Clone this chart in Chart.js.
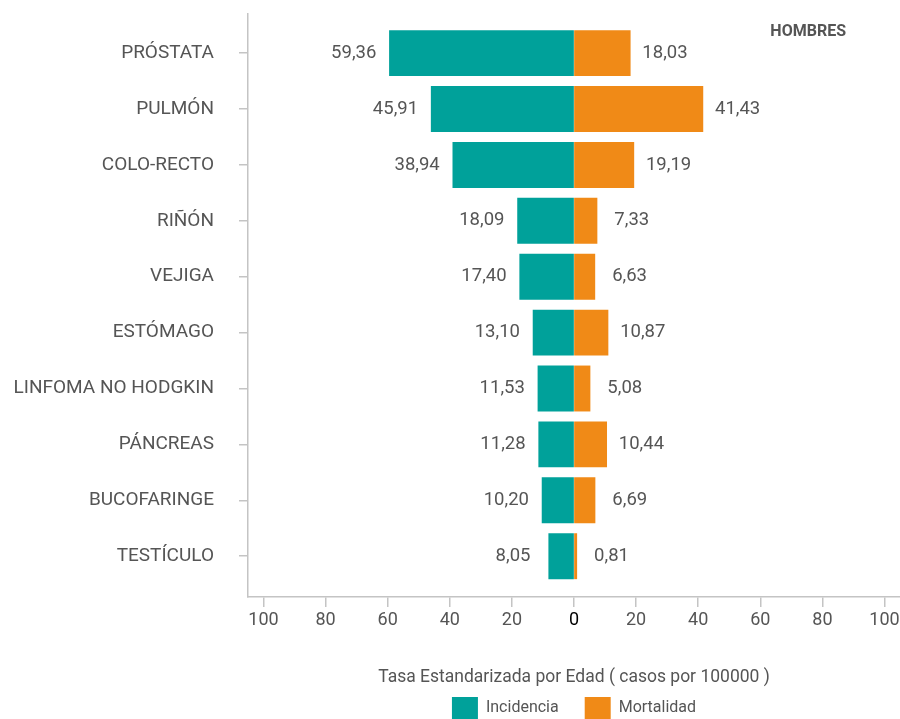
<!DOCTYPE html>
<html>
<head>
<meta charset="utf-8">
<script src="https://cdn.jsdelivr.net/npm/chart.js@4.4.1/dist/chart.umd.min.js"></script>
<style>
  html, body { margin: 0; padding: 0; background: #fff; }
</style>
</head>
<body>
<canvas id="chart" width="900" height="719"></canvas>
<script>
let categories = ["PRÓSTATA", "PULMÓN", "COLO-RECTO", "RIÑÓN", "VEJIGA", "ESTÓMAGO",
    "LINFOMA NO HODGKIN", "PÁNCREAS", "BUCOFARINGE", "TESTÍCULO"];
let incidencia = [59.36, 45.91, 38.94, 18.09, 17.40, 13.10, 11.53, 11.28, 10.20, 8.05];
let mortalidad = [18.03, 41.43, 19.19, 7.33, 6.63, 10.87, 5.08, 10.44, 6.69, 0.81];
let xTicks = [-100, -80, -60, -40, -20, 0, 20, 40, 60, 80, 100];
let axisTitle = "Tasa Estandarizada por Edad ( casos por 100000 )";
let panelTitle = "HOMBRES";

const grey = '#555555';
const axisGrey = '#c4c4c4';
const fmt = (v) => v.toFixed(2).replace('.', ',');

// value labels next to each bar + panel title
const barLabels = {
    id: 'barLabels',
    afterDatasetsDraw(chart) {
        const ctx = chart.ctx;
        ctx.save();
        ctx.font = '18.5px Roboto';
        ctx.fillStyle = grey;
        ctx.textAlign = 'center';
        ctx.textBaseline = 'middle';
        chart.getDatasetMeta(0).data.forEach((bar, i) => {
            ctx.fillText(fmt(incidencia[i]), bar.x - 36, bar.y);
        });
        chart.getDatasetMeta(1).data.forEach((bar, i) => {
            ctx.fillText(fmt(mortalidad[i]), bar.x + 35, bar.y);
        });
        ctx.font = 'bold 16px Roboto';
        ctx.textAlign = 'right';
        ctx.fillText(panelTitle, chart.chartArea.right - 54, chart.chartArea.top + 18);
        ctx.restore();
    }
};

let chartCanvas = document.getElementById("chart").getContext('2d');
let graph = new Chart(chartCanvas, {
    type: 'bar',
    data: {
        datasets: [
            {
                label: "Incidencia",
                data: incidencia.map((v, i) => ({x: -v, y: i})),
                backgroundColor: '#00a19a',
            },
            {
                label: "Mortalidad",
                data: mortalidad.map((v, i) => ({x: v, y: i})),
                backgroundColor: '#f08a17',
            }
        ]
    },
    options: {
        indexAxis: 'y',
        responsive: false,
        animation: false,
        events: [],
        barPercentage: 0.8,
        categoryPercentage: 1.0,
        inflateAmount: 0.6,
        layout: {padding: {top: 14, bottom: -10, left: 0, right: 0}},
        scales: {
            x: {
                type: 'linear',
                stacked: true,
                min: -105,
                max: 105,
                afterBuildTicks: (axis) => { axis.ticks = xTicks.map(v => ({value: v})); },
                afterFit: (axis) => {
                    axis.height = 74;
                    axis.paddingLeft = 0;
                    axis.paddingRight = 0;
                },
                grid: {drawOnChartArea: false, drawTicks: true, tickLength: 10, color: axisGrey, lineWidth: 1.5},
                border: {display: true, color: axisGrey, width: 1.5},
                ticks: {
                    autoSkip: false,
                    maxRotation: 0,
                    padding: 3,
                    font: {family: 'Roboto', size: 18},
                    color: (c) => (c.tick && c.tick.value === 0 ? '#000' : grey),
                    callback: (v) => Math.abs(v),
                },
                title: {
                    display: true,
                    text: axisTitle,
                    color: grey,
                    font: {family: 'Roboto', size: 17.5},
                    padding: {top: 0, bottom: -17},
                },
            },
            y: {
                type: 'linear',
                stacked: true,
                reverse: true,
                offset: false,
                min: -0.7,
                max: 9.73,
                afterBuildTicks: (axis) => { axis.ticks = categories.map((c, i) => ({value: i})); },
                afterFit: (axis) => {
                    axis.width = 248;
                    axis.paddingTop = 0;
                    axis.paddingBottom = 0;
                },
                grid: {offset: false, drawOnChartArea: false, drawTicks: true, tickLength: 9, color: axisGrey, lineWidth: 1.5},
                border: {display: true, color: axisGrey, width: 1.5},
                ticks: {
                    autoSkip: false,
                    padding: 25,
                    font: {family: 'Roboto', size: 19},
                    color: grey,
                    callback: (v) => categories[v],
                },
            },
        },
        plugins: {
            tooltip: {enabled: false},
            legend: {
                position: 'bottom',
                fullSize: false,
                labels: {
                    boxWidth: 26,
                    boxHeight: 22,
                    padding: 26,
                    color: grey,
                    font: {family: 'Roboto', size: 16},
                },
            },
        },
    },
    plugins: [barLabels],
});
</script>
</body>
</html>
